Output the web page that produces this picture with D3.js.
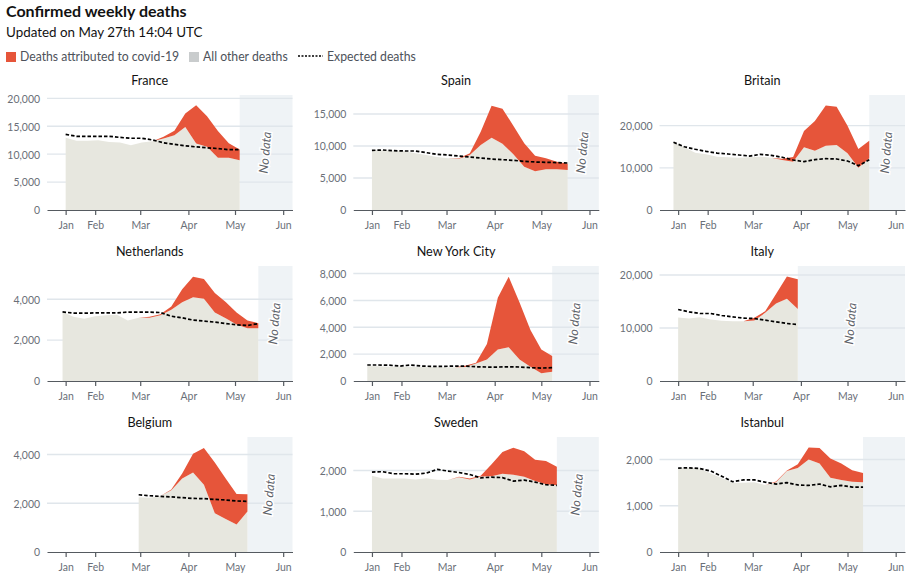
<!DOCTYPE html>
<html>
<head>
<meta charset="utf-8">
<script src="https://cdn.jsdelivr.net/npm/d3@7"></script>
<style>
  html, body { margin: 0; background: #fff; }
  text { font-family: Lato, "Noto Sans", sans-serif; }
</style>
</head>
<body>
<div id="chart"></div>
<script>
const WIDTH = 923;
const HEIGHT = 582;
const PANEL_W = 245.5;
const PANEL_H = 115;
const COLS = [47, 353.3, 659.5];
const ROWS = [95, 266, 437];

const RED = '#e6553a';
const GREY = '#e7e7df';
const NODATA = '#eff3f6';
const GRID = '#e0e6eb';
const AXIS = '#555a60';
const LABEL = '#6a6f78';

// weekly values
const franceOther = [12950, 12400, 12400, 12500, 12200, 12100, 11600, 12100, 12300, 12800, 13400, 14870, 11900, 11350, 9370, 9370, 8900];
const franceTotal = [12950, 12400, 12400, 12500, 12200, 12100, 11600, 12100, 12300, 13100, 14200, 17300, 18750, 16800, 14150, 11950, 10850];
const franceExpected = [13550, 13200, 13200, 13200, 13200, 13000, 12850, 12850, 12550, 12050, 11750, 11500, 11300, 11150, 11000, 10800, 10800];

const spainOther = [9320, 9320, 9270, 9220, 8850, 8590, 8280, 8070, 8020, 8590, 10150, 11300, 10360, 8700, 6770, 6040, 6350, 6350, 6250];
const spainTotal = [9320, 9320, 9270, 9220, 8850, 8590, 8280, 8070, 8070, 8850, 12240, 16300, 15830, 13180, 10420, 8490, 8070, 7550, 7240];
const spainExpected = [9320, 9375, 9270, 9220, 9220, 8960, 8700, 8590, 8440, 8280, 8125, 7970, 7860, 7760, 7600, 7500, 7450, 7400, 7340];

const britainOther = [16000, 14900, 13600, 13200, 12650, 12500, 12400, 12500, 12650, 12400, 11850, 11460, 14860, 14070, 15250, 15400, 13440, 10040, 12250];
const britainTotal = [16000, 14900, 13600, 13200, 12650, 12500, 12400, 12500, 12650, 12400, 12170, 12570, 18730, 21100, 24800, 24500, 20000, 14470, 16440];
const britainExpected = [16050, 15000, 14400, 13900, 13500, 13280, 13040, 12800, 13200, 12960, 12500, 11860, 11460, 11940, 12170, 12100, 11620, 10500, 11940];

const netherlandsOther = [3370, 3140, 3040, 3170, 3220, 3240, 2960, 3090, 3100, 3220, 3480, 3850, 4100, 4020, 3350, 3070, 2760, 2585, 2585];
const netherlandsTotal = [3370, 3140, 3040, 3170, 3220, 3240, 2960, 3090, 3140, 3270, 3640, 4490, 5100, 4990, 4310, 3870, 3350, 2960, 2830];
const netherlandsExpected = [3380, 3320, 3320, 3330, 3330, 3330, 3370, 3370, 3370, 3350, 3170, 3090, 2980, 2930, 2880, 2810, 2750, 2715, 2810];

const nycOther = [1120, 1100, 1060, 1080, 1070, 1050, 1040, 1030, 1030, 1040, 1300, 1600, 2350, 2520, 1600, 1060, 570, 690];
const nycTotal = [1120, 1100, 1060, 1080, 1070, 1050, 1040, 1030, 1030, 1140, 1360, 2750, 6200, 7770, 5840, 3790, 2350, 1860];
const nycExpected = [1190, 1190, 1180, 1110, 1190, 1110, 1090, 1090, 1110, 1110, 1060, 1040, 1040, 1060, 1040, 990, 965, 990];

const italyOther = [11970, 11790, 12040, 11600, 11350, 11290, 11290, 11410, 12850, 14600, 15490, 13600];
const italyTotal = [11970, 11790, 12040, 11600, 11350, 11290, 11290, 11910, 13170, 16430, 19690, 19190];
const italyExpected = [13480, 13040, 12730, 12730, 12350, 12100, 11850, 11790, 11470, 11160, 10850, 10660];

const belgiumOther = [2245, 2230, 2300, 2540, 3020, 3265, 2760, 1590, 1350, 1130, 1660];
const belgiumTotal = [2245, 2230, 2300, 2570, 3220, 4030, 4270, 3670, 3020, 2380, 2370];
const belgiumExpected = [2350, 2310, 2285, 2260, 2230, 2200, 2190, 2160, 2135, 2095, 2080];

const swedenOther = [1870, 1800, 1805, 1805, 1780, 1810, 1770, 1765, 1835, 1780, 1855, 1860, 1920, 1895, 1845, 1740, 1665, 1635];
const swedenTotal = [1870, 1800, 1805, 1805, 1780, 1810, 1770, 1765, 1845, 1800, 1870, 2150, 2455, 2560, 2470, 2260, 2230, 2090];
const swedenExpected = [1960, 1970, 1920, 1920, 1910, 1935, 2025, 1985, 1950, 1900, 1820, 1835, 1825, 1740, 1765, 1715, 1650, 1635];

const istanbulOther = [1815, 1820, 1805, 1700, 1600, 1500, 1500, 1510, 1450, 1510, 1750, 1815, 2000, 1915, 1605, 1555, 1520, 1510];
const istanbulTotal = [1815, 1820, 1805, 1700, 1600, 1500, 1500, 1510, 1450, 1525, 1765, 1900, 2260, 2250, 2020, 1915, 1770, 1706];
const istanbulExpected = [1815, 1820, 1805, 1750, 1640, 1520, 1560, 1560, 1510, 1470, 1500, 1450, 1440, 1470, 1410, 1440, 1405, 1405];

const monthTicks = ['2020-01-13', '2020-02-01', '2020-03-01', '2020-04-01', '2020-05-01', '2020-06-01'];
const monthLabels = ['Jan', 'Feb', 'Mar', 'Apr', 'May', 'Jun'];

const panels = [
  { name: 'France', start: '2020-01-13', yMax: 20600, yTicks: [0, 5000, 10000, 15000, 20000], other: franceOther, total: franceTotal, expected: franceExpected, noData: true },
  { name: 'Spain', start: '2020-01-13', yMax: 17970, yTicks: [0, 5000, 10000, 15000], other: spainOther, total: spainTotal, expected: spainExpected, noData: true },
  { name: 'Britain', start: '2020-01-10', yMax: 27270, yTicks: [0, 10000, 20000], other: britainOther, total: britainTotal, expected: britainExpected, noData: true },
  { name: 'Netherlands', start: '2020-01-11', yMax: 5626, yTicks: [0, 2000, 4000], other: netherlandsOther, total: netherlandsTotal, expected: netherlandsExpected, noData: true },
  { name: 'New York City', start: '2020-01-10', yMax: 8564, yTicks: [0, 2000, 4000, 6000, 8000], other: nycOther, total: nycTotal, expected: nycExpected, noData: true },
  { name: 'Italy', start: '2020-01-13', yMax: 21690, yTicks: [0, 10000, 20000], other: italyOther, total: italyTotal, expected: italyExpected, noData: true },
  { name: 'Belgium', start: '2020-02-29', yMax: 4721, yTicks: [0, 2000, 4000], other: belgiumOther, total: belgiumTotal, expected: belgiumExpected, noData: true },
  { name: 'Sweden', start: '2020-01-13', yMax: 2821, yTicks: [0, 1000, 2000], other: swedenOther, total: swedenTotal, expected: swedenExpected, noData: true },
  { name: 'Istanbul', start: '2020-01-13', yMax: 2487, yTicks: [0, 1000, 2000], other: istanbulOther, total: istanbulTotal, expected: istanbulExpected, noData: false }
];

// the original face is narrower than Lato, so squeeze the glyphs a bit
function condense(sel, factor) {
  sel.each(function () {
    this.setAttribute('textLength', this.getComputedTextLength() * factor);
    this.setAttribute('lengthAdjust', 'spacingAndGlyphs');
  });
}

const svg = d3.select('#chart').append('svg')
  .attr('width', WIDTH)
  .attr('height', HEIGHT)
  .style('display', 'block');

// header
svg.append('text').attr('x', 6).attr('y', 17)
  .attr('font-size', 16).attr('font-weight', 700).attr('fill', '#121212')
  .text('Confirmed weekly deaths');
svg.append('text').attr('x', 6).attr('y', 37)
  .attr('font-size', 14).attr('fill', '#121212')
  .text('Updated on May 27th 14:04 UTC')
  .call(condense, 0.956);

// legend
const legend = svg.append('g').attr('font-size', 13).attr('fill', '#4d525a');
legend.append('rect').attr('x', 6).attr('y', 52).attr('width', 10).attr('height', 10).attr('fill', RED);
legend.append('text').attr('x', 20).attr('y', 61).text('Deaths attributed to covid-19');
legend.append('rect').attr('x', 189).attr('y', 52).attr('width', 10).attr('height', 10).attr('fill', '#c9cccd');
legend.append('text').attr('x', 203).attr('y', 61).text('All other deaths');
legend.append('line').attr('x1', 298).attr('x2', 323).attr('y1', 56).attr('y2', 56)
  .attr('stroke', '#000').attr('stroke-width', 1.6).attr('stroke-dasharray', '2,1.5');
legend.append('text').attr('x', 327).attr('y', 61).text('Expected deaths');
legend.selectAll('text').call(condense, 0.94);

const parse = d3.utcParse('%Y-%m-%d');

panels.forEach((p, i) => {
  const g = svg.append('g')
    .attr('transform', `translate(${COLS[i % 3]},${ROWS[Math.floor(i / 3)]})`);

  const x = d3.scaleUtc()
    .domain([parse('2020-01-01'), parse('2020-06-07')])
    .range([0, PANEL_W]);
  const y = d3.scaleLinear().domain([0, p.yMax]).range([PANEL_H, 0]);

  const weeks = p.total.map((_, k) => d3.utcDay.offset(parse(p.start), k * 7));
  const lastX = x(weeks[weeks.length - 1]);

  g.append('text')
    .attr('x', PANEL_W / 2 - 20).attr('y', -10.5)
    .attr('text-anchor', 'middle').attr('font-size', 13).attr('fill', '#121212')
    .text(p.name)
    .call(condense, 0.97);

  // no data block sits under the grid
  g.append('rect')
    .attr('x', lastX).attr('y', 0)
    .attr('width', PANEL_W - lastX).attr('height', PANEL_H)
    .attr('fill', NODATA);

  g.selectAll('.grid')
    .data(p.yTicks.filter(d => d > 0))
    .join('line')
    .attr('x1', 0).attr('x2', PANEL_W)
    .attr('y1', d => y(d)).attr('y2', d => y(d))
    .attr('stroke', GRID).attr('stroke-width', 1.4);

  const otherArea = d3.area()
    .x((_, k) => x(weeks[k]))
    .y0(PANEL_H)
    .y1(d => y(d));
  const redArea = d3.area()
    .x((_, k) => x(weeks[k]))
    .y0((_, k) => y(p.other[k]))
    .y1(d => y(d));
  const expectedLine = d3.line()
    .x((_, k) => x(weeks[k]))
    .y(d => y(d));

  g.append('path').attr('d', otherArea(p.other)).attr('fill', GREY);
  g.append('path').attr('d', redArea(p.total)).attr('fill', RED);
  g.append('path').attr('d', expectedLine(p.expected))
    .attr('fill', 'none').attr('stroke', '#000')
    .attr('stroke-width', 1.7).attr('stroke-dasharray', '3.5,2');

  if (p.noData) {
    const cx = (lastX + PANEL_W) / 2;
    g.append('text')
      .attr('transform', `translate(${cx - 1},${PANEL_H / 2}) rotate(-85)`)
      .attr('text-anchor', 'middle').attr('dy', '0.35em')
      .attr('font-size', 12.5).attr('font-style', 'italic').attr('fill', '#5f646b')
      .attr('stroke', '#fff').attr('stroke-width', 3).attr('paint-order', 'stroke')
      .text('No data');
  }

  // axes
  const xAxis = d3.axisBottom(x)
    .tickValues(monthTicks.map(parse))
    .tickFormat((_, k) => monthLabels[k])
    .tickSize(5).tickSizeOuter(0).tickPadding(5);
  const xG = g.append('g').attr('transform', `translate(0,${PANEL_H})`).call(xAxis);
  xG.select('.domain').attr('stroke', AXIS).attr('stroke-width', 1.2);
  xG.selectAll('.tick line').attr('stroke', AXIS).attr('stroke-width', 1.2);
  xG.selectAll('text').attr('fill', LABEL).attr('font-size', 12)
    .style('font-family', 'Lato, "Noto Sans", sans-serif')
    .call(condense, 0.87);

  const yAxis = d3.axisLeft(y)
    .tickValues(p.yTicks)
    .tickFormat(d3.format(','))
    .tickSize(0).tickPadding(7);
  const yG = g.append('g').call(yAxis);
  yG.select('.domain').remove();
  yG.selectAll('text').attr('fill', LABEL).attr('font-size', 12)
    .style('font-family', 'Lato, "Noto Sans", sans-serif')
    .call(condense, 0.87);
});
</script>
</body>
</html>
